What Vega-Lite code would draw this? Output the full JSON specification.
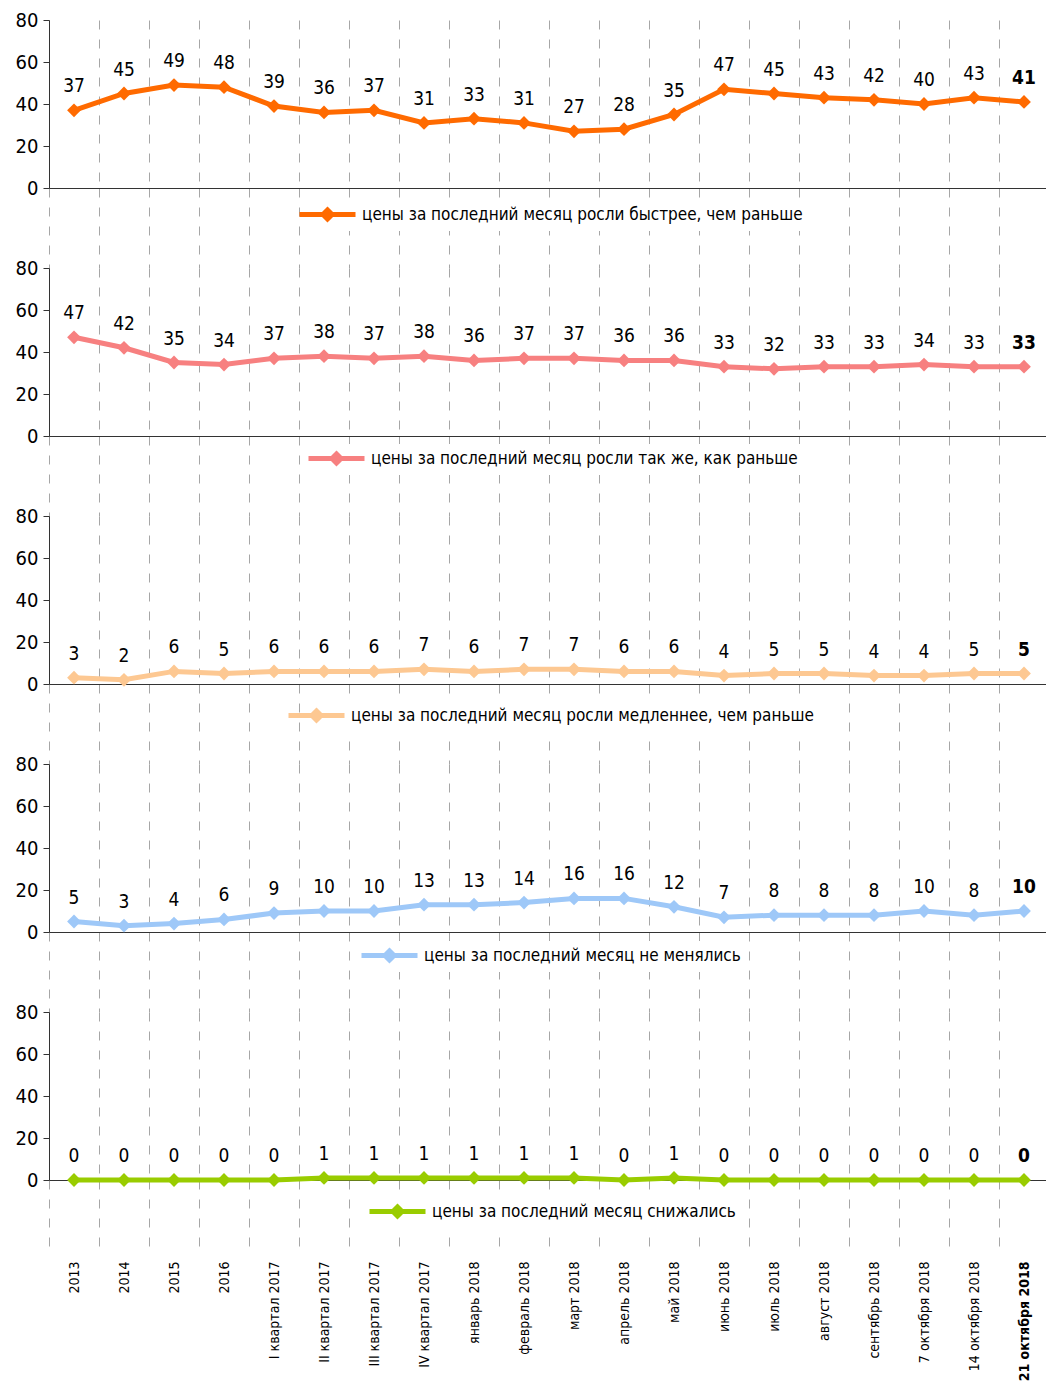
{
  "$schema": "https://vega.github.io/schema/vega-lite/v6.json",
  "padding": {"left": 15, "top": 10, "right": 0, "bottom": 0},
  "background": "white",
  "config": {
    "font": "Liberation Sans Narrow, DejaVu Sans Condensed, Roboto",
    "view": {"stroke": null},
    "axisY": {"domainColor": "#333333", "tickColor": "#333333", "tickSize": 6, "labelPadding": 5, "labelFontSize": 20, "labelColor": "#000000", "grid": false, "title": null, "values": [0, 20, 40, 60, 80]},
    "axisX": {"domainColor": "#333333", "grid": true, "gridDash": [9, 10], "gridColor": "#a6a6a6", "tickBand": "extent", "tickDash": [9, 10], "tickColor": "#a6a6a6", "tickSize": 80, "title": null, "labels": false},
    "legend": {"labelFontSize": 17, "labelColor": "#000000", "labelLimit": 800, "symbolSize": 400, "symbolStrokeWidth": 5, "labelOffset": 22, "title": null, "orient": "none", "fillColor": "#ffffff", "padding": 2}
  },
  "datasets": {
    "d": [
      {"cat": "2013", "series": "A", "value": 37}, {"cat": "2014", "series": "A", "value": 45}, {"cat": "2015", "series": "A", "value": 49}, {"cat": "2016", "series": "A", "value": 48}, {"cat": "I квартал 2017", "series": "A", "value": 39}, {"cat": "II квартал 2017", "series": "A", "value": 36}, {"cat": "III квартал 2017", "series": "A", "value": 37}, {"cat": "IV квартал 2017", "series": "A", "value": 31}, {"cat": "январь 2018", "series": "A", "value": 33}, {"cat": "февраль 2018", "series": "A", "value": 31}, {"cat": "март 2018", "series": "A", "value": 27}, {"cat": "апрель 2018", "series": "A", "value": 28}, {"cat": "май 2018", "series": "A", "value": 35}, {"cat": "июнь 2018", "series": "A", "value": 47}, {"cat": "июль 2018", "series": "A", "value": 45}, {"cat": "август 2018", "series": "A", "value": 43}, {"cat": "сентябрь 2018", "series": "A", "value": 42}, {"cat": "7 октября 2018", "series": "A", "value": 40}, {"cat": "14 октября 2018", "series": "A", "value": 43}, {"cat": "21 октября 2018", "series": "A", "value": 41},
      {"cat": "2013", "series": "B", "value": 47}, {"cat": "2014", "series": "B", "value": 42}, {"cat": "2015", "series": "B", "value": 35}, {"cat": "2016", "series": "B", "value": 34}, {"cat": "I квартал 2017", "series": "B", "value": 37}, {"cat": "II квартал 2017", "series": "B", "value": 38}, {"cat": "III квартал 2017", "series": "B", "value": 37}, {"cat": "IV квартал 2017", "series": "B", "value": 38}, {"cat": "январь 2018", "series": "B", "value": 36}, {"cat": "февраль 2018", "series": "B", "value": 37}, {"cat": "март 2018", "series": "B", "value": 37}, {"cat": "апрель 2018", "series": "B", "value": 36}, {"cat": "май 2018", "series": "B", "value": 36}, {"cat": "июнь 2018", "series": "B", "value": 33}, {"cat": "июль 2018", "series": "B", "value": 32}, {"cat": "август 2018", "series": "B", "value": 33}, {"cat": "сентябрь 2018", "series": "B", "value": 33}, {"cat": "7 октября 2018", "series": "B", "value": 34}, {"cat": "14 октября 2018", "series": "B", "value": 33}, {"cat": "21 октября 2018", "series": "B", "value": 33},
      {"cat": "2013", "series": "C", "value": 3}, {"cat": "2014", "series": "C", "value": 2}, {"cat": "2015", "series": "C", "value": 6}, {"cat": "2016", "series": "C", "value": 5}, {"cat": "I квартал 2017", "series": "C", "value": 6}, {"cat": "II квартал 2017", "series": "C", "value": 6}, {"cat": "III квартал 2017", "series": "C", "value": 6}, {"cat": "IV квартал 2017", "series": "C", "value": 7}, {"cat": "январь 2018", "series": "C", "value": 6}, {"cat": "февраль 2018", "series": "C", "value": 7}, {"cat": "март 2018", "series": "C", "value": 7}, {"cat": "апрель 2018", "series": "C", "value": 6}, {"cat": "май 2018", "series": "C", "value": 6}, {"cat": "июнь 2018", "series": "C", "value": 4}, {"cat": "июль 2018", "series": "C", "value": 5}, {"cat": "август 2018", "series": "C", "value": 5}, {"cat": "сентябрь 2018", "series": "C", "value": 4}, {"cat": "7 октября 2018", "series": "C", "value": 4}, {"cat": "14 октября 2018", "series": "C", "value": 5}, {"cat": "21 октября 2018", "series": "C", "value": 5},
      {"cat": "2013", "series": "D", "value": 5}, {"cat": "2014", "series": "D", "value": 3}, {"cat": "2015", "series": "D", "value": 4}, {"cat": "2016", "series": "D", "value": 6}, {"cat": "I квартал 2017", "series": "D", "value": 9}, {"cat": "II квартал 2017", "series": "D", "value": 10}, {"cat": "III квартал 2017", "series": "D", "value": 10}, {"cat": "IV квартал 2017", "series": "D", "value": 13}, {"cat": "январь 2018", "series": "D", "value": 13}, {"cat": "февраль 2018", "series": "D", "value": 14}, {"cat": "март 2018", "series": "D", "value": 16}, {"cat": "апрель 2018", "series": "D", "value": 16}, {"cat": "май 2018", "series": "D", "value": 12}, {"cat": "июнь 2018", "series": "D", "value": 7}, {"cat": "июль 2018", "series": "D", "value": 8}, {"cat": "август 2018", "series": "D", "value": 8}, {"cat": "сентябрь 2018", "series": "D", "value": 8}, {"cat": "7 октября 2018", "series": "D", "value": 10}, {"cat": "14 октября 2018", "series": "D", "value": 8}, {"cat": "21 октября 2018", "series": "D", "value": 10},
      {"cat": "2013", "series": "E", "value": 0}, {"cat": "2014", "series": "E", "value": 0}, {"cat": "2015", "series": "E", "value": 0}, {"cat": "2016", "series": "E", "value": 0}, {"cat": "I квартал 2017", "series": "E", "value": 0}, {"cat": "II квартал 2017", "series": "E", "value": 1}, {"cat": "III квартал 2017", "series": "E", "value": 1}, {"cat": "IV квартал 2017", "series": "E", "value": 1}, {"cat": "январь 2018", "series": "E", "value": 1}, {"cat": "февраль 2018", "series": "E", "value": 1}, {"cat": "март 2018", "series": "E", "value": 1}, {"cat": "апрель 2018", "series": "E", "value": 0}, {"cat": "май 2018", "series": "E", "value": 1}, {"cat": "июнь 2018", "series": "E", "value": 0}, {"cat": "июль 2018", "series": "E", "value": 0}, {"cat": "август 2018", "series": "E", "value": 0}, {"cat": "сентябрь 2018", "series": "E", "value": 0}, {"cat": "7 октября 2018", "series": "E", "value": 0}, {"cat": "14 октября 2018", "series": "E", "value": 0}, {"cat": "21 октября 2018", "series": "E", "value": 0}
    ],
    "names": [
      {"series": "A", "name": "цены за последний месяц росли быстрее, чем раньше"},
      {"series": "B", "name": "цены за последний месяц росли так же, как раньше"},
      {"series": "C", "name": "цены за последний месяц росли медленнее, чем раньше"},
      {"series": "D", "name": "цены за последний месяц не менялись"},
      {"series": "E", "name": "цены за последний месяц снижались"}
    ]
  },
  "data": {"name": "d"},
  "transform": [{"lookup": "series", "from": {"data": {"name": "names"}, "key": "series", "fields": ["name"]}}],
  "bounds": "flush",
  "spacing": 80,
  "resolve": {"scale": {"color": "independent"}, "legend": {"color": "independent"}},
  "vconcat": [
    {
      "width": 1000, "height": 168,
      "transform": [{"filter": "datum.series === 'A'"}],
      "encoding": {
        "x": {"field": "cat", "type": "nominal", "sort": null, "scale": {"type": "band", "paddingInner": 0, "paddingOuter": 0, "domain": ["2013","2014","2015","2016","I квартал 2017","II квартал 2017","III квартал 2017","IV квартал 2017","январь 2018","февраль 2018","март 2018","апрель 2018","май 2018","июнь 2018","июль 2018","август 2018","сентябрь 2018","7 октября 2018","14 октября 2018","21 октября 2018"]}},
        "y": {"field": "value", "type": "quantitative", "scale": {"domain": [0, 80]}}
      },
      "layer": [
        {"mark": {"type": "line", "strokeWidth": 5, "point": {"shape": "diamond", "size": 190, "filled": true, "opacity": 1}},
         "encoding": {"color": {"field": "name", "type": "nominal", "scale": {"range": ["#ff6a00"]},
           "legend": {"legendX": 264, "legendY": 180, "symbolType": "M-2.8,0L2.8,0M0,-0.45L0.45,0L0,0.45L-0.45,0Z", "symbolFillColor": "#ff6a00", "symbolStrokeColor": "#ff6a00",
             "encode": {"symbols": {"update": {"fill": {"value": "#ff6a00"}, "stroke": {"value": "#ff6a00"}, "strokeWidth": {"value": 5}, "opacity": {"value": 1}}}}}}}},
        {"transform": [{"filter": "datum.cat !== '21 октября 2018'"}], "mark": {"type": "text", "dy": -24, "fontSize": 19, "color": "#000000"}, "encoding": {"text": {"field": "value", "type": "quantitative"}}},
        {"transform": [{"filter": "datum.cat === '21 октября 2018'"}], "mark": {"type": "text", "dy": -24, "fontSize": 19, "fontWeight": "bold", "color": "#000000"}, "encoding": {"text": {"field": "value", "type": "quantitative"}}}
      ]
    },
    {
      "width": 1000, "height": 168,
      "transform": [{"filter": "datum.series === 'B'"}],
      "encoding": {
        "x": {"field": "cat", "type": "nominal", "sort": null, "scale": {"type": "band", "paddingInner": 0, "paddingOuter": 0, "domain": ["2013","2014","2015","2016","I квартал 2017","II квартал 2017","III квартал 2017","IV квартал 2017","январь 2018","февраль 2018","март 2018","апрель 2018","май 2018","июнь 2018","июль 2018","август 2018","сентябрь 2018","7 октября 2018","14 октября 2018","21 октября 2018"]}},
        "y": {"field": "value", "type": "quantitative", "scale": {"domain": [0, 80]}}
      },
      "layer": [
        {"mark": {"type": "line", "strokeWidth": 5, "point": {"shape": "diamond", "size": 190, "filled": true, "opacity": 1}},
         "encoding": {"color": {"field": "name", "type": "nominal", "scale": {"range": ["#f78080"]},
           "legend": {"legendX": 273, "legendY": 176, "symbolType": "M-2.8,0L2.8,0M0,-0.45L0.45,0L0,0.45L-0.45,0Z", "symbolFillColor": "#f78080", "symbolStrokeColor": "#f78080",
             "encode": {"symbols": {"update": {"fill": {"value": "#f78080"}, "stroke": {"value": "#f78080"}, "strokeWidth": {"value": 5}, "opacity": {"value": 1}}}}}}}},
        {"transform": [{"filter": "datum.cat !== '21 октября 2018'"}], "mark": {"type": "text", "dy": -24, "fontSize": 19, "color": "#000000"}, "encoding": {"text": {"field": "value", "type": "quantitative"}}},
        {"transform": [{"filter": "datum.cat === '21 октября 2018'"}], "mark": {"type": "text", "dy": -24, "fontSize": 19, "fontWeight": "bold", "color": "#000000"}, "encoding": {"text": {"field": "value", "type": "quantitative"}}}
      ]
    },
    {
      "width": 1000, "height": 168,
      "transform": [{"filter": "datum.series === 'C'"}],
      "encoding": {
        "x": {"field": "cat", "type": "nominal", "sort": null, "scale": {"type": "band", "paddingInner": 0, "paddingOuter": 0, "domain": ["2013","2014","2015","2016","I квартал 2017","II квартал 2017","III квартал 2017","IV квартал 2017","январь 2018","февраль 2018","март 2018","апрель 2018","май 2018","июнь 2018","июль 2018","август 2018","сентябрь 2018","7 октября 2018","14 октября 2018","21 октября 2018"]}},
        "y": {"field": "value", "type": "quantitative", "scale": {"domain": [0, 80]}}
      },
      "layer": [
        {"mark": {"type": "line", "strokeWidth": 5, "point": {"shape": "diamond", "size": 190, "filled": true, "opacity": 1}},
         "encoding": {"color": {"field": "name", "type": "nominal", "scale": {"range": ["#fdc892"]},
           "legend": {"legendX": 253, "legendY": 185, "symbolType": "M-2.8,0L2.8,0M0,-0.45L0.45,0L0,0.45L-0.45,0Z", "symbolFillColor": "#fdc892", "symbolStrokeColor": "#fdc892",
             "encode": {"symbols": {"update": {"fill": {"value": "#fdc892"}, "stroke": {"value": "#fdc892"}, "strokeWidth": {"value": 5}, "opacity": {"value": 1}}}}}}}},
        {"transform": [{"filter": "datum.cat !== '21 октября 2018'"}], "mark": {"type": "text", "dy": -24, "fontSize": 19, "color": "#000000"}, "encoding": {"text": {"field": "value", "type": "quantitative"}}},
        {"transform": [{"filter": "datum.cat === '21 октября 2018'"}], "mark": {"type": "text", "dy": -24, "fontSize": 19, "fontWeight": "bold", "color": "#000000"}, "encoding": {"text": {"field": "value", "type": "quantitative"}}}
      ]
    },
    {
      "width": 1000, "height": 168,
      "transform": [{"filter": "datum.series === 'D'"}],
      "encoding": {
        "x": {"field": "cat", "type": "nominal", "sort": null, "scale": {"type": "band", "paddingInner": 0, "paddingOuter": 0, "domain": ["2013","2014","2015","2016","I квартал 2017","II квартал 2017","III квартал 2017","IV квартал 2017","январь 2018","февраль 2018","март 2018","апрель 2018","май 2018","июнь 2018","июль 2018","август 2018","сентябрь 2018","7 октября 2018","14 октября 2018","21 октября 2018"]}},
        "y": {"field": "value", "type": "quantitative", "scale": {"domain": [0, 80]}}
      },
      "layer": [
        {"mark": {"type": "line", "strokeWidth": 5, "point": {"shape": "diamond", "size": 190, "filled": true, "opacity": 1}},
         "encoding": {"color": {"field": "name", "type": "nominal", "scale": {"range": ["#9ec8f8"]},
           "legend": {"legendX": 326, "legendY": 177, "symbolType": "M-2.8,0L2.8,0M0,-0.45L0.45,0L0,0.45L-0.45,0Z", "symbolFillColor": "#9ec8f8", "symbolStrokeColor": "#9ec8f8",
             "encode": {"symbols": {"update": {"fill": {"value": "#9ec8f8"}, "stroke": {"value": "#9ec8f8"}, "strokeWidth": {"value": 5}, "opacity": {"value": 1}}}}}}}},
        {"transform": [{"filter": "datum.cat !== '21 октября 2018'"}], "mark": {"type": "text", "dy": -24, "fontSize": 19, "color": "#000000"}, "encoding": {"text": {"field": "value", "type": "quantitative"}}},
        {"transform": [{"filter": "datum.cat === '21 октября 2018'"}], "mark": {"type": "text", "dy": -24, "fontSize": 19, "fontWeight": "bold", "color": "#000000"}, "encoding": {"text": {"field": "value", "type": "quantitative"}}}
      ]
    },
    {
      "width": 1000, "height": 168,
      "transform": [{"filter": "datum.series === 'E'"}],
      "encoding": {
        "x": {"field": "cat", "type": "nominal", "sort": null, "scale": {"type": "band", "paddingInner": 0, "paddingOuter": 0, "domain": ["2013","2014","2015","2016","I квартал 2017","II квартал 2017","III квартал 2017","IV квартал 2017","январь 2018","февраль 2018","март 2018","апрель 2018","май 2018","июнь 2018","июль 2018","август 2018","сентябрь 2018","7 октября 2018","14 октября 2018","21 октября 2018"]},
          "axis": {"labels": true, "tickSize": 76, "labelAngle": -90, "labelPadding": 5, "labelFontSize": 14, "labelColor": "#000000", "labelLimit": 200,
            "labelFontWeight": {"condition": {"test": "datum.value === '21 октября 2018'", "value": "bold"}, "value": "normal"}}},
        "y": {"field": "value", "type": "quantitative", "scale": {"domain": [0, 80]}}
      },
      "layer": [
        {"mark": {"type": "line", "strokeWidth": 5, "point": {"shape": "diamond", "size": 190, "filled": true, "opacity": 1}},
         "encoding": {"color": {"field": "name", "type": "nominal", "scale": {"range": ["#99cc00"]},
           "legend": {"legendX": 334, "legendY": 185, "symbolType": "M-2.8,0L2.8,0M0,-0.45L0.45,0L0,0.45L-0.45,0Z", "symbolFillColor": "#99cc00", "symbolStrokeColor": "#99cc00",
             "encode": {"symbols": {"update": {"fill": {"value": "#99cc00"}, "stroke": {"value": "#99cc00"}, "strokeWidth": {"value": 5}, "opacity": {"value": 1}}}}}}}},
        {"transform": [{"filter": "datum.cat !== '21 октября 2018'"}], "mark": {"type": "text", "dy": -24, "fontSize": 19, "color": "#000000"}, "encoding": {"text": {"field": "value", "type": "quantitative"}}},
        {"transform": [{"filter": "datum.cat === '21 октября 2018'"}], "mark": {"type": "text", "dy": -24, "fontSize": 19, "fontWeight": "bold", "color": "#000000"}, "encoding": {"text": {"field": "value", "type": "quantitative"}}}
      ]
    }
  ]
}
